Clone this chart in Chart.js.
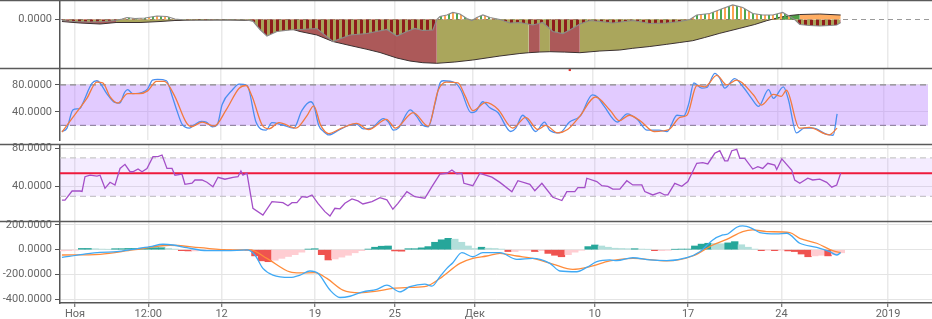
<!DOCTYPE html>
<html>
<head>
<meta charset="utf-8">
<script src="https://cdn.jsdelivr.net/npm/chart.js@4.4.1/dist/chart.umd.min.js"></script>
<style>
html, body { margin: 0; padding: 0; background: #fff; }
#wrap { position: relative; width: 932px; height: 319px; overflow: hidden; }
#wrap canvas { position: absolute; left: 0; }
</style>
</head>
<body>
<div id="wrap">
  <canvas id="p1" width="932" height="74" style="top:-6px"></canvas>
  <canvas id="p2" width="932" height="82" style="top:62px"></canvas>
  <canvas id="p3" width="932" height="83" style="top:138px"></canvas>
  <canvas id="p4" width="932" height="104" style="top:215px"></canvas>
</div>
<script>
// time axis, in days from 1 Nov
var tickDays = [0, 5.5, 11, 18, 24, 30, 39, 46, 53, 61];
var tickLabels = ['Ноя', '12:00', '12', '19', '25', 'Дек', '10', '17', '24', '2019'];
var xMin = -1.125, xMax = 64.3;

// pane 1: momentum histogram + trend area
var momDays = [-0.98,0,1.13,2.25,3.08,3.53,3.9,4.5,5.25,6.15,6.9,7.5,8.25,9.38,10.5,11.63,12.75,13.35,13.88,14.4,15.15,16.13,16.88,18.15,19.35,20.63,21.9,23.4,24.15,24.9,25.5,26.1,26.85,27.15,27.38,27.9,28.35,28.88,29.4,29.78,30.15,30.6,31.13,31.88,32.63,33.38,34.35,35.1,35.85,36.6,37.13,37.88,38.63,39.38,40.35,41.85,43.13,44.4,45.38,46.13,46.65,47.63,48.6,49.35,50.1,50.85,51.6,52.35,53.1,53.63,54.0,54.38,55.13,55.88,56.63,57.15,57.45];
var momVals = [-1,-2,-2.5,-2,-1,0.5,2,1,1.5,3.5,3,0.5,-0.5,-1,-0.5,-0.5,-0.5,-1.5,-10,-16.5,-12,-10.5,-10,-9,-22,-15.5,-14,-10,-16.5,-12,-9,-11,-10.5,0,3,4.5,7,5.5,1,-1,2,4.5,2,0,-3.5,-3,-5.5,-3,-12,-14,-10.5,-4.5,-1,-2,-3.5,-1,-4,-3.5,-2,0,4.5,6,11,14.5,12,6,4.5,4.5,7,3,0,-5,-6,-6.5,-6,-5.5,-3];
var trendDays = [-0.98,0.38,1.88,3.08,4.88,6.38,7.5,9.38,11.63,13.13,14.63,16.13,16.88,18.15,19.35,20.63,21.9,22.88,24.15,25.13,26.1,27.15,28.5,29.85,31.88,33.38,34.05,34.88,35.63,36.75,37.88,39.38,40.88,41.85,43.13,44.4,45.38,46.35,47.25,48.38,49.88,51.0,51.9,52.88,53.63,54.38,55.88,57.45];
var trendVals = [-2,-3.5,-4.5,-3,-3,-2,-1,-0.5,-0.5,-1,-4,-9,-12,-15.5,-22,-26,-29.8,-33,-38.5,-41.5,-43.2,-43.8,-42.5,-40.5,-36.5,-34,-33.2,-32.5,-32.2,-32.6,-33.2,-31.5,-30.5,-28.8,-27,-24.8,-23,-21.2,-18,-13.8,-8.8,-5,-1.2,2.2,4,5,5.5,4.5];
var trendState = [-1,-1,-1,1,1,1,1,1,1,-1,-1,-1,-1,-1,-1,-1,-1,-1,-1,-1,-1,1,1,1,1,1,-1,1,-1,-1,1,1,1,1,1,1,1,1,1,1,1,1,1,2,2,3,3,3];

// pane 2: stochastic
var kDays = [-0.98,-0.6,-0.15,0.38,0.6,1.28,1.65,1.88,2.4,3.0,3.38,3.75,3.98,4.35,5.1,5.48,5.85,6.23,6.9,7.35,7.65,8.1,8.63,9.0,9.53,9.9,10.35,10.73,11.1,11.85,12.38,12.98,13.65,14.4,14.85,15.6,16.5,17.1,17.78,18.0,18.38,18.75,19.13,19.88,20.63,21.23,21.75,22.35,23.25,23.63,24.0,24.38,25.28,25.73,26.25,26.63,27.15,27.53,27.75,28.65,29.1,29.85,30.23,30.75,31.28,31.88,32.85,33.23,33.75,34.13,34.73,35.4,35.78,36.53,37.28,38.1,39.0,39.38,39.9,40.88,41.63,42.38,43.13,44.03,44.63,45.38,45.9,46.28,46.65,47.25,47.63,48.23,48.6,48.98,49.73,50.4,51.0,51.53,52.28,52.65,53.4,53.78,54.38,54.98,55.65,56.63,57.15,57.45];
var kVals = [11,16,43,45,53,82,86,83,67,54,53,69,73,67,69,74,87,88,86,62,44,21,16,21,26,25,18,21,51,72,81,79,25,13,24,21,16,42,55,50,20,11,6,13,20,22,15,16,30,25,13,16,43,34,20,18,53,83,86,83,72,39,41,55,46,39,11,16,35,27,11,25,13,9,25,34,65,62,48,25,37,29,13,13,11,35,34,53,83,75,76,97,90,75,89,76,60,48,73,60,77,58,9,16,16,7,5.5,37];
var dDays = [-0.98,0.15,0.9,1.65,2.1,2.63,3.23,3.98,4.88,5.48,6.15,6.75,7.5,8.4,8.78,9.6,10.5,11.4,12.38,12.9,13.35,14.1,14.63,15.38,16.65,17.48,18.0,18.53,19.13,20.1,21.23,22.13,23.48,24.15,25.5,26.63,27.38,27.98,28.88,29.4,30.0,30.98,31.88,33.0,33.98,34.88,35.48,36.38,37.13,38.03,39.23,40.35,41.03,41.78,42.6,43.65,44.78,45.6,46.13,46.88,47.48,48.38,49.13,49.88,51.15,51.75,52.65,53.25,53.63,54.6,55.35,56.85,57.45];
var dVals = [10,40,60,84,83,63,53,67,67,71,85,85,64,24,18,25,19,43,75,79,63,21,15,24,16,34,49,20,8,16,23,14,29,16,39,19,72,84,83,64,42,54,44,16,32,14,20,9,14,33,62,42,27,35,27,11,14,32,35,79,77,94,80,87,65,50,66,63,72,16,17,6,16];
var stochUpper = 80, stochLower = 20;
var stochMarkDay = 37.3, stochMark = 102;

// pane 3: RSI
var rsiDays = [-0.98,-0.75,-0.22,0.38,0.53,0.75,1.13,1.65,1.88,2.25,2.63,3.0,3.38,3.75,4.13,4.35,4.73,5.03,5.4,5.85,6.23,6.53,6.9,7.28,7.5,8.03,8.25,8.78,9.0,9.53,9.9,10.35,10.73,11.25,11.85,12.23,12.45,12.6,12.9,13.35,14.1,14.78,15.6,15.98,16.28,16.65,17.03,17.4,17.78,18.23,18.75,19.13,19.5,19.88,20.25,20.78,21.23,21.6,22.28,22.88,23.4,23.85,24.23,24.9,25.5,26.25,26.78,27.38,27.9,28.28,28.65,29.03,29.18,29.85,30.38,31.28,31.88,32.78,33.23,34.13,34.5,35.03,35.85,36.53,36.9,37.5,37.73,38.25,38.4,39.15,39.53,39.98,40.35,40.88,41.4,41.85,42.53,42.75,43.35,43.88,44.25,44.48,45.0,45.53,45.98,46.65,47.1,47.48,48.0,48.38,48.75,48.98,49.28,49.65,49.88,50.25,50.85,51.23,51.6,51.98,52.5,52.65,53.03,53.78,54.0,54.38,54.98,55.35,55.88,56.4,56.78,57.15,57.45];
var rsiVals = [26,26,35.5,35.5,35,50.4,52,51,52,38.3,44.6,41.8,59,63.3,55.6,55.6,58.4,55.6,59,71.3,71.3,73,59,59,52,53,42.5,43.6,47,47,44.6,40,49.8,47.8,49.8,50.4,56.3,52,54,17.5,10.5,24.4,23.4,20.2,23.4,23.4,29.6,29,31.4,22.7,14,9.5,17.5,17,22.7,27.2,25.2,22,24.5,28.6,26.3,16.5,22.7,34.8,29.6,28,40,53,54,57.4,53.4,54,43.5,41,54,50,44.5,34.8,46.2,42.5,35.8,43.5,29,25.6,34.8,34.8,39,39,48.8,45.4,41,40.4,37.5,37.5,46.2,41.8,41.8,35,31.4,34,31.4,31.4,43.5,40.4,45.4,64.4,65,63.7,74.8,77.5,67,67,77.5,79,69.6,69.6,58.4,60.8,59,64.4,62.6,58,69,57,47,43.5,48.8,47,47.8,44.5,39.5,41.8,54];
var rsiUpper = 70, rsiLower = 30, rsiMid = 54;

// pane 4: MACD
var macdDays = [-0.98,0.6,1.88,3.15,4.35,5.63,6.6,7.35,8.4,9.9,11.4,12.9,13.5,14.1,14.85,16.13,16.88,17.63,18.23,19.13,19.88,20.63,21.6,22.65,23.4,24.38,25.13,26.25,26.78,27.38,27.9,28.35,29.03,29.85,30.6,31.88,33.15,34.35,35.63,36.38,37.65,38.4,39.15,40.13,40.65,41.85,43.13,44.4,45.9,46.88,47.85,48.6,48.98,49.65,50.1,50.78,51.38,52.65,53.4,54.38,55.65,56.63,57.15,57.45];
var macdVals = [-62,-37,-21,-16,3,24,44,38,16,-8,-8,-2,-43,-151,-205,-224,-205,-172,-191,-326,-386,-376,-340,-321,-286,-340,-299,-278,-294,-218,-151,-105,-24,-57,-24,-24,-78,-70,-110,-172,-178,-143,-97,-83,-89,-65,-83,-89,-65,-16,79,119,127,181,192,173,138,127,133,52,19,-16,-43,-24];
var sigDays = [-0.98,1.88,4.35,7.13,9.38,11.63,13.13,14.4,16.13,16.88,18.0,18.9,20.1,21.38,22.65,23.85,25.13,26.4,27.38,28.88,29.85,30.9,31.88,33.15,34.35,35.85,37.35,38.63,40.13,41.85,44.4,46.35,47.85,48.9,50.1,50.85,51.9,53.63,54.38,55.65,56.85,57.45];
var sigVals = [-43,-37,-2,36,16,-2,-2,-70,-180,-188,-185,-232,-326,-348,-335,-313,-305,-294,-232,-110,-70,-51,-29,-51,-70,-116,-159,-137,-91,-70,-91,-51,38,84,146,160,146,138,92,52,-8,-24];
var macdHist = [-10,-8,-3,10,10,8,5,3,8,8,10,10,12,12,16,16,10,5,-8,-10,-10,-5,-3,-2,0,-2,-2,-2,-3,-50,-90,-97,-85,-70,-55,-40,-20,5,8,-40,-83,-75,-60,-45,-25,-8,5,20,28,30,-10,-12,8,8,15,25,60,80,92,85,60,30,10,20,12,10,5,-15,-15,-5,-5,-15,-8,-30,-45,-57,-40,-20,-5,25,38,30,20,12,10,8,8,5,3,-8,-8,-5,3,5,5,30,45,52,50,48,55,65,40,20,5,-8,-3,-8,-3,-10,-15,-35,-57,-50,-45,-50,-40,-25];
var histDays = macdHist.map(function (v, i) { return -1 + i * 0.5; });

Chart.defaults.font.family = "Roboto, 'Liberation Sans', Arial, sans-serif";
Chart.defaults.font.size = 11;
Chart.defaults.color = '#666';

function pts(days, vals) {
    return vals.map(function (v, i) { return { x: days[i], y: v }; });
}
function level(v) {
    return [{ x: xMin, y: v }, { x: xMax, y: v }];
}
function line(data, color, width, extra) {
    return Object.assign({ type: 'line', data: data, borderColor: color, borderWidth: width, pointRadius: 0, fill: false, tension: 0 }, extra || {});
}
function stripes(cols, w) {
    var c = document.createElement('canvas');
    c.width = cols.length * w;
    c.height = 4;
    var g = c.getContext('2d');
    cols.forEach(function (col, i) { g.fillStyle = col; g.fillRect(i * w, 0, w, 4); });
    return g.createPattern(c, 'repeat');
}

var paneFrame = {
    id: 'paneFrame',
    afterDraw: function (chart) {
        var ctx = chart.ctx, a = chart.chartArea;
        ctx.save();
        ctx.strokeStyle = '#5a5a5a';
        ctx.lineWidth = 1.5;
        ctx.beginPath();
        ctx.moveTo(0, a.top - 0.5);
        ctx.lineTo(chart.width, a.top - 0.5);
        ctx.stroke();
        ctx.restore();
    }
};

function xScale(showLabels) {
    return {
        type: 'linear', min: xMin, max: xMax, offset: false,
        afterBuildTicks: function (s) { s.ticks = tickDays.map(function (v) { return { value: v }; }); },
        afterFit: function (s) { s.height = showLabels ? 16 : 0; s.paddingLeft = 0; s.paddingRight = 0; },
        grid: { offset: false, color: '#e9e9e9', lineWidth: 1.5, drawTicks: showLabels, tickLength: 4, tickColor: '#555', tickWidth: 1 },
        border: { display: showLabels, color: '#555', width: 1.5 },
        ticks: {
            display: showLabels, autoSkip: false, maxRotation: 0, padding: 1, color: '#666',
            callback: function (v, i) { return tickLabels[i]; }
        }
    };
}
function yScale(min, max, ticks, gridOn) {
    return {
        min: min, max: max,
        afterBuildTicks: function (s) { s.ticks = ticks.map(function (v) { return { value: v }; }); },
        afterFit: function (s) { s.width = 60; s.paddingTop = 0; s.paddingBottom = 0; },
        grid: { drawOnChartArea: gridOn, color: '#e4e4e4', lineWidth: 1, tickLength: 5, tickColor: '#555' },
        border: { color: '#555', width: 1.5 },
        ticks: { padding: 3, color: '#666', callback: function (v) { return Number(v).toFixed(4); } }
    };
}
function makeChart(id, datasets, yMin, yMax, yTicks, yGrid, showX) {
    return new Chart(document.getElementById(id), {
        type: 'line',
        data: { datasets: datasets },
        options: {
            responsive: false, animation: false, devicePixelRatio: 1, events: [],
            layout: { padding: { top: 7, left: 0, right: 0, bottom: 0 } },
            plugins: { legend: { display: false }, tooltip: { enabled: false } },
            scales: { x: xScale(showX), y: yScale(yMin, yMax, yTicks, yGrid) }
        },
        plugins: [paneFrame]
    });
}

// pane 1
var trendColor = { '-1': 'rgba(160,66,66,0.88)', '1': '#aaa65c', '2': '#4f9f45', '3': '#ffad62' };
var stripesUp = stripes(['#4fa84f', 'rgba(255,255,255,0)', '#ffa552', 'rgba(255,255,255,0)'], 2);
var stripesDown = stripes(['#8e1c1c', '#a9a55a'], 3);
makeChart('p1', [
    line(pts(momDays, momVals), '#8a8a8a', 1.2, { fill: { target: 'origin', above: stripesUp, below: stripesDown } }),
    line(pts(trendDays, trendVals), '#3b3030', 1, {
        fill: 'origin', backgroundColor: '#aaa65c',
        segment: { backgroundColor: function (c) { return trendColor[trendState[c.p0DataIndex]]; } }
    }),
    line(level(0), '#9a9a9a', 1, { borderDash: [5, 4] })
], -48.5, 18.5, [0], false, false);

// pane 2
makeChart('p2', [
    { type: 'line', data: [{ x: stochMarkDay, y: stochMark }], showLine: false, pointRadius: 1.6, pointStyle: 'rect', pointBackgroundColor: '#e8332f', pointBorderWidth: 0 },
    line(pts(dDays, dVals), '#f27a3e', 1.3, { cubicInterpolationMode: 'monotone' }),
    line(pts(kDays, kVals), '#4a8ff0', 1.3, { cubicInterpolationMode: 'monotone' }),
    line(level(stochUpper), '#8a8a8a', 1.2, { borderDash: [6, 4], fill: '+1', backgroundColor: 'rgba(186,132,255,0.42)' }),
    line(level(stochLower), '#8a8a8a', 1.2, { borderDash: [6, 4] })
], -1.54, 103.36, [40, 80], true, false);

// pane 3
makeChart('p3', [
    line(pts(rsiDays, rsiVals), '#a44fc8', 1.3),
    line(level(rsiMid), '#ee1a3c', 2),
    line(level(rsiUpper), '#c8c8c8', 1.2, { borderDash: [6, 4], fill: '+1', backgroundColor: 'rgba(190,140,255,0.17)' }),
    line(level(rsiLower), '#c8c8c8', 1.2, { borderDash: [6, 4] })
], 4.27, 83.44, [40, 80], true, false);

// pane 4
var histColors = macdHist.map(function (v, i) {
    var p = i ? macdHist[i - 1] : v;
    if (v >= 0) return v >= p ? '#26a69a' : '#b2dfdb';
    return v < p ? '#ef5350' : '#ffcdd2';
});
makeChart('p4', [
    line(pts(macdDays, macdVals), '#3fa9f5', 1.3, { cubicInterpolationMode: 'monotone' }),
    line(pts(sigDays, sigVals), '#ff8c3b', 1.3, { cubicInterpolationMode: 'monotone' }),
    { type: 'bar', data: pts(histDays, macdHist), backgroundColor: histColors, barPercentage: 1, categoryPercentage: 1, borderWidth: 0 }
], -430.5, 223.7, [200, 0, -200, -400], true, true);
</script>
</body>
</html>
